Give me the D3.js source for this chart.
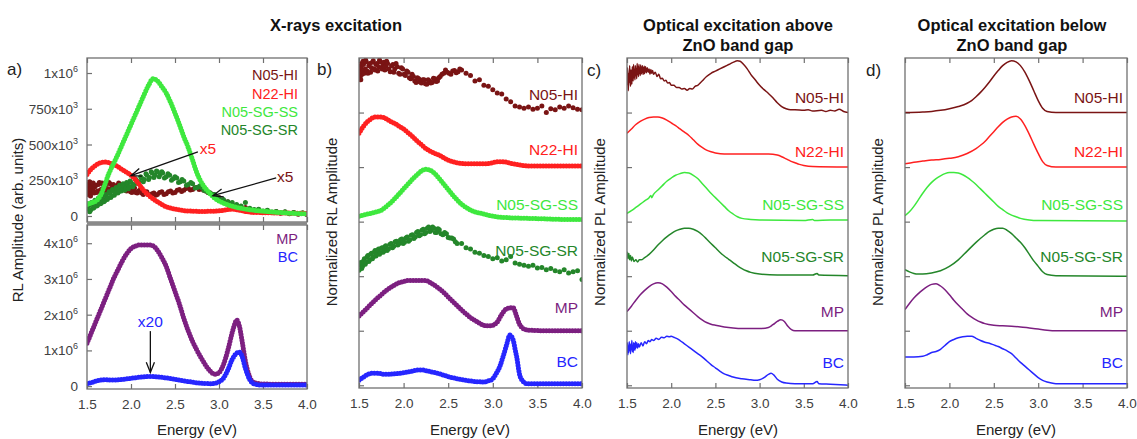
<!DOCTYPE html>
<html>
<head>
<meta charset="utf-8">
<script src="https://cdn.jsdelivr.net/npm/d3@7"></script>
<style>
  body { margin: 0; background: #fff; }
  svg { display: block; font-family: "Liberation Sans", Arial, sans-serif; }
</style>
</head>
<body>
<script>
// ---- data (energy in eV, value) ----
const energyTicks = [1.5, 2.0, 2.5, 3.0, 3.5, 4.0];
const sampleNames = ["N05-HI", "N22-HI", "N05-SG-SS", "N05-SG-SR", "MP", "BC"];
const sampleColors = ["#7a1414", "#ff2020", "#3ee83e", "#24862a", "#7c1f80", "#2626ff"];

// panel a, top (arb. units / 1e3)
const aTopTicks = [0, 250, 500, 750, 1000];
const aTopTickLabels = [["0", ""], ["250x10", "3"], ["500x10", "3"], ["750x10", "3"], ["1x10", "6"]];
const aHI = [[1.5,150],[1.505,195],[1.51,220],[1.515,160],[1.52,170],[1.525,215],[1.53,240],[1.535,185],[1.54,140],[1.545,200],[1.55,210],[1.555,165],[1.56,180],[1.565,225],[1.57,230],[1.575,175],[1.58,160],[1.59,205],[1.6,215],[1.61,165],[1.62,175],[1.63,220],[1.64,235],[1.65,180],[1.66,185],[1.67,230],[1.68,220],[1.69,175],[1.7,170],[1.71,215],[1.72,230],[1.73,185],[1.74,190],[1.75,235],[1.76,225],[1.77,190],[1.78,180],[1.79,210],[1.8,220],[1.815,185],[1.83,195],[1.845,215],[1.86,230],[1.875,190],[1.89,185],[1.905,205],[1.92,215],[1.935,180],[1.95,175],[1.965,190],[1.98,200],[1.995,170],[2.01,165],[2.025,185],[2.04,195],[2.055,165],[2.07,160],[2.085,175],[2.1,180],[2.12,160],[2.14,150],[2.16,165],[2.18,170],[2.2,150],[2.22,145],[2.24,155],[2.26,160],[2.28,145],[2.3,150],[2.325,165],[2.35,170],[2.375,150],[2.4,155],[2.425,170],[2.45,175],[2.475,160],[2.5,165],[2.525,180],[2.55,185],[2.575,172],[2.6,180],[2.625,192],[2.65,195],[2.675,182],[2.7,185],[2.725,198],[2.75,200],[2.775,185],[2.8,190],[2.825,180],[2.85,175],[2.875,165],[2.9,160],[2.925,150],[2.95,145],[2.975,135],[3.0,130],[3.05,110],[3.1,100],[3.15,80],[3.2,70],[3.25,55],[3.3,60],[3.35,45],[3.4,40],[3.45,45],[3.5,30],[3.55,38],[3.6,25],[3.65,32],[3.7,20],[3.75,28],[3.8,15],[3.85,25],[3.9,12],[3.95,20],[4.0,10]];
const aN22 = [[1.5,290],[1.55,330],[1.6,355],[1.65,372],[1.7,378],[1.75,372],[1.8,360],[1.85,345],[1.9,325],[1.95,305],[2.0,285],[2.05,255],[2.1,215],[2.15,175],[2.2,145],[2.25,120],[2.3,100],[2.35,80],[2.4,65],[2.45,55],[2.5,48],[2.6,38],[2.7,34],[2.8,32],[2.9,33],[3.0,36],[3.1,45],[3.15,48],[3.2,44],[3.3,32],[3.4,25],[3.6,22],[3.8,20],[4.0,18]];
const aSS = [[1.5,80],[1.55,92],[1.6,105],[1.65,140],[1.7,215],[1.75,300],[1.8,365],[1.85,430],[1.9,500],[1.95,570],[2.0,640],[2.05,710],[2.1,780],[2.15,850],[2.2,915],[2.25,960],[2.3,945],[2.35,905],[2.4,860],[2.45,795],[2.5,720],[2.55,640],[2.6,555],[2.65,480],[2.7,390],[2.75,300],[2.8,235],[2.85,190],[2.9,155],[2.95,125],[3.0,105],[3.1,78],[3.2,60],[3.3,48],[3.4,40],[3.5,33],[3.6,28],[3.7,24],[3.8,20],[3.9,17],[4.0,15]];
const aSR = [[1.5,50],[1.51,85],[1.52,70],[1.53,30],[1.54,40],[1.55,95],[1.56,80],[1.57,55],[1.58,60],[1.59,110],[1.6,95],[1.61,70],[1.62,75],[1.63,125],[1.64,110],[1.65,85],[1.66,90],[1.67,140],[1.68,120],[1.69,100],[1.7,105],[1.71,150],[1.72,140],[1.73,115],[1.74,125],[1.75,170],[1.76,160],[1.77,130],[1.78,140],[1.79,185],[1.8,175],[1.81,145],[1.82,160],[1.83,200],[1.84,190],[1.85,160],[1.86,170],[1.87,215],[1.88,200],[1.89,175],[1.9,185],[1.91,225],[1.92,210],[1.93,180],[1.94,195],[1.95,235],[1.96,225],[1.97,190],[1.98,205],[1.99,245],[2.0,235],[2.02,205],[2.03,220],[2.05,260],[2.06,250],[2.08,225],[2.09,240],[2.11,275],[2.12,265],[2.14,240],[2.15,255],[2.17,295],[2.18,285],[2.2,255],[2.21,270],[2.23,310],[2.24,300],[2.26,270],[2.27,285],[2.29,315],[2.3,310],[2.32,275],[2.33,290],[2.35,310],[2.36,300],[2.38,265],[2.4,275],[2.42,295],[2.44,285],[2.46,250],[2.48,260],[2.5,275],[2.52,265],[2.54,235],[2.56,240],[2.58,255],[2.6,245],[2.63,215],[2.65,220],[2.68,235],[2.7,225],[2.73,195],[2.75,200],[2.78,210],[2.8,200],[2.83,180],[2.85,175],[2.88,165],[2.9,160],[2.93,150],[2.95,150],[2.98,130],[3.0,125],[3.05,115],[3.1,100],[3.15,95],[3.2,80],[3.25,70],[3.3,95],[3.35,55],[3.4,45],[3.45,48],[3.5,35],[3.55,40],[3.6,28],[3.65,32],[3.7,22],[3.75,30],[3.8,18],[3.85,25],[3.9,15],[3.95,22],[4.0,12]];

// panel a, bottom (arb. units / 1e6)
const aBotTicks = [0, 1, 2, 3, 4];
const aBotTickLabels = [["0", ""], ["1x10", "6"], ["2x10", "6"], ["3x10", "6"], ["4x10", "6"]];
const aMP = [[1.5,1.2],[1.55,1.5],[1.6,1.8],[1.65,2.1],[1.7,2.4],[1.75,2.7],[1.8,3.0],[1.85,3.25],[1.9,3.5],[1.95,3.7],[2.0,3.85],[2.05,3.92],[2.1,3.95],[2.15,3.95],[2.2,3.95],[2.25,3.93],[2.3,3.8],[2.35,3.6],[2.4,3.35],[2.45,3.0],[2.5,2.65],[2.55,2.3],[2.6,1.9],[2.65,1.55],[2.7,1.25],[2.75,1.0],[2.8,0.78],[2.85,0.58],[2.9,0.42],[2.95,0.33],[3.0,0.38],[3.05,0.6],[3.1,1.0],[3.15,1.5],[3.18,1.75],[3.2,1.85],[3.23,1.7],[3.26,1.3],[3.3,0.7],[3.35,0.25],[3.4,0.1],[3.5,0.06],[3.75,0.05],[4.0,0.05]];
const aBC = [[1.5,0.07],[1.55,0.1],[1.6,0.14],[1.65,0.17],[1.7,0.18],[1.8,0.17],[1.9,0.19],[2.0,0.22],[2.1,0.25],[2.2,0.27],[2.3,0.26],[2.4,0.23],[2.5,0.19],[2.6,0.15],[2.7,0.11],[2.8,0.08],[2.9,0.07],[2.95,0.08],[3.0,0.12],[3.05,0.22],[3.1,0.45],[3.15,0.75],[3.2,0.92],[3.23,0.95],[3.26,0.85],[3.3,0.5],[3.35,0.18],[3.4,0.06],[3.5,0.03],[3.75,0.03],[4.0,0.03]];

// panel b, normalized RL
const bHI = [[1.5,0.7],[1.505,0.78],[1.51,0.85],[1.515,0.66],[1.52,0.6],[1.525,0.82],[1.53,0.9],[1.535,0.7],[1.54,0.75],[1.545,0.94],[1.55,0.88],[1.56,0.72],[1.57,0.8],[1.575,0.96],[1.58,0.93],[1.59,0.76],[1.6,0.72],[1.61,0.86],[1.62,0.9],[1.63,0.74],[1.64,0.82],[1.65,0.92],[1.66,0.95],[1.67,0.8],[1.68,0.78],[1.69,0.88],[1.7,0.9],[1.71,0.76],[1.72,0.84],[1.73,0.96],[1.74,0.93],[1.75,0.82],[1.76,0.8],[1.77,0.88],[1.78,0.92],[1.79,0.78],[1.8,0.85],[1.81,0.94],[1.82,0.9],[1.835,0.8],[1.85,0.75],[1.865,0.86],[1.88,0.88],[1.89,0.74],[1.9,0.8],[1.915,0.9],[1.93,0.84],[1.945,0.72],[1.96,0.7],[1.975,0.82],[1.99,0.8],[2.005,0.7],[2.02,0.68],[2.035,0.76],[2.05,0.74],[2.065,0.64],[2.08,0.62],[2.095,0.7],[2.11,0.66],[2.125,0.58],[2.14,0.55],[2.155,0.64],[2.17,0.62],[2.185,0.56],[2.2,0.54],[2.215,0.6],[2.23,0.6],[2.245,0.53],[2.26,0.52],[2.275,0.6],[2.29,0.58],[2.305,0.54],[2.32,0.55],[2.335,0.63],[2.35,0.62],[2.365,0.57],[2.38,0.58],[2.395,0.64],[2.41,0.66],[2.43,0.7],[2.45,0.72],[2.47,0.78],[2.49,0.74],[2.51,0.72],[2.53,0.7],[2.55,0.76],[2.57,0.77],[2.59,0.73],[2.61,0.75],[2.63,0.8],[2.65,0.78],[2.7,0.72],[2.75,0.68],[2.8,0.58],[2.85,0.6],[2.9,0.5],[2.95,0.48],[3.0,0.42],[3.05,0.36],[3.1,0.34],[3.15,0.25],[3.2,0.2],[3.25,0.12],[3.3,0.1],[3.35,0.08],[3.4,0.1],[3.45,0.06],[3.5,0.08],[3.55,0.12],[3.6,0.0],[3.65,0.07],[3.7,0.05],[3.75,0.1],[3.8,0.08],[3.85,0.12],[3.9,0.09],[3.95,0.06],[4.0,0.05]];
const bN22 = [[1.5,0.62],[1.55,0.75],[1.6,0.84],[1.65,0.9],[1.7,0.92],[1.75,0.92],[1.8,0.89],[1.85,0.84],[1.9,0.8],[1.95,0.75],[2.0,0.7],[2.05,0.63],[2.1,0.56],[2.15,0.48],[2.2,0.41],[2.25,0.34],[2.3,0.29],[2.35,0.25],[2.4,0.22],[2.45,0.17],[2.5,0.13],[2.55,0.1],[2.6,0.08],[2.7,0.06],[2.8,0.06],[2.9,0.06],[3.0,0.08],[3.05,0.1],[3.1,0.1],[3.15,0.09],[3.2,0.07],[3.3,0.04],[3.4,0.02],[3.6,0.02],[4.0,0.02]];
const bSS = [[1.5,0.1],[1.55,0.12],[1.6,0.14],[1.65,0.16],[1.7,0.18],[1.75,0.21],[1.8,0.27],[1.85,0.34],[1.9,0.42],[1.95,0.51],[2.0,0.6],[2.05,0.69],[2.1,0.78],[2.15,0.86],[2.2,0.93],[2.25,0.96],[2.3,0.94],[2.35,0.88],[2.4,0.79],[2.45,0.69],[2.5,0.59],[2.55,0.49],[2.6,0.4],[2.65,0.32],[2.7,0.26],[2.75,0.21],[2.8,0.18],[2.9,0.14],[3.0,0.1],[3.1,0.08],[3.2,0.07],[3.4,0.06],[3.6,0.05],[3.8,0.04],[4.0,0.04]];
const bSR = [[1.5,0.11],[1.51,0.2],[1.52,0.25],[1.53,0.14],[1.54,0.18],[1.55,0.28],[1.56,0.32],[1.57,0.22],[1.58,0.26],[1.59,0.35],[1.6,0.38],[1.61,0.27],[1.62,0.3],[1.63,0.4],[1.64,0.42],[1.65,0.32],[1.66,0.35],[1.67,0.44],[1.68,0.47],[1.69,0.37],[1.7,0.4],[1.71,0.48],[1.72,0.5],[1.73,0.4],[1.74,0.43],[1.75,0.51],[1.76,0.52],[1.77,0.44],[1.78,0.46],[1.79,0.54],[1.8,0.56],[1.815,0.47],[1.83,0.5],[1.845,0.58],[1.86,0.6],[1.875,0.52],[1.89,0.55],[1.905,0.63],[1.92,0.64],[1.935,0.57],[1.95,0.6],[1.965,0.67],[1.98,0.68],[1.995,0.6],[2.01,0.62],[2.025,0.7],[2.04,0.72],[2.055,0.64],[2.07,0.67],[2.085,0.75],[2.1,0.76],[2.115,0.69],[2.13,0.72],[2.145,0.8],[2.16,0.82],[2.175,0.74],[2.19,0.76],[2.205,0.84],[2.22,0.86],[2.235,0.78],[2.25,0.8],[2.265,0.88],[2.28,0.9],[2.295,0.82],[2.31,0.84],[2.325,0.9],[2.34,0.88],[2.355,0.8],[2.37,0.8],[2.385,0.87],[2.4,0.85],[2.42,0.78],[2.44,0.76],[2.46,0.8],[2.48,0.78],[2.5,0.71],[2.52,0.7],[2.54,0.7],[2.56,0.68],[2.58,0.63],[2.6,0.6],[2.65,0.6],[2.7,0.52],[2.75,0.5],[2.8,0.44],[2.85,0.42],[2.9,0.38],[2.95,0.36],[3.0,0.32],[3.05,0.34],[3.1,0.28],[3.15,0.3],[3.2,0.36],[3.25,0.24],[3.3,0.22],[3.35,0.2],[3.4,0.18],[3.45,0.2],[3.5,0.15],[3.55,0.16],[3.6,0.12],[3.65,0.14],[3.7,0.1],[3.75,0.08],[3.8,0.12],[3.85,0.06],[3.9,0.08],[3.95,0.1],[4.0,-0.06]];
const bMP = [[1.5,0.27],[1.55,0.35],[1.6,0.43],[1.65,0.51],[1.7,0.59],[1.75,0.66],[1.8,0.73],[1.85,0.79],[1.9,0.84],[1.95,0.88],[2.0,0.9],[2.05,0.92],[2.1,0.92],[2.15,0.92],[2.2,0.92],[2.25,0.92],[2.3,0.88],[2.35,0.83],[2.4,0.77],[2.45,0.7],[2.5,0.62],[2.55,0.54],[2.6,0.46],[2.65,0.38],[2.7,0.31],[2.75,0.24],[2.8,0.19],[2.85,0.14],[2.9,0.1],[2.95,0.09],[3.0,0.1],[3.05,0.16],[3.1,0.3],[3.15,0.4],[3.2,0.42],[3.23,0.42],[3.26,0.3],[3.3,0.12],[3.34,0.04],[3.4,0.01],[3.6,0.0],[4.0,0.0]];
const bBC = [[1.5,0.09],[1.55,0.15],[1.6,0.2],[1.65,0.22],[1.7,0.22],[1.8,0.2],[1.9,0.21],[2.0,0.23],[2.1,0.26],[2.15,0.28],[2.2,0.28],[2.3,0.25],[2.4,0.21],[2.5,0.16],[2.6,0.12],[2.7,0.09],[2.8,0.07],[2.9,0.06],[2.95,0.08],[3.0,0.12],[3.04,0.22],[3.08,0.35],[3.11,0.5],[3.14,0.66],[3.16,0.77],[3.19,0.92],[3.23,0.82],[3.25,0.66],[3.27,0.5],[3.3,0.2],[3.34,0.07],[3.38,0.03],[3.5,0.03],[4.0,0.03]];

// panel c, PL above band gap
const cHI = [[1.5,0.5],[1.505,0.82],[1.51,0.62],[1.515,0.4],[1.52,0.72],[1.525,0.55],[1.53,0.86],[1.535,0.6],[1.54,0.48],[1.545,0.78],[1.55,0.66],[1.555,0.52],[1.56,0.84],[1.565,0.7],[1.57,0.58],[1.575,0.88],[1.58,0.64],[1.585,0.76],[1.59,0.6],[1.595,0.86],[1.6,0.68],[1.605,0.8],[1.61,0.62],[1.615,0.9],[1.62,0.7],[1.625,0.84],[1.63,0.66],[1.635,0.88],[1.64,0.72],[1.645,0.8],[1.65,0.68],[1.655,0.87],[1.66,0.72],[1.665,0.83],[1.67,0.7],[1.675,0.86],[1.68,0.74],[1.685,0.82],[1.69,0.7],[1.695,0.85],[1.7,0.72],[1.71,0.84],[1.72,0.73],[1.73,0.82],[1.74,0.74],[1.75,0.8],[1.76,0.7],[1.77,0.79],[1.78,0.72],[1.79,0.77],[1.8,0.7],[1.82,0.74],[1.84,0.66],[1.86,0.7],[1.88,0.62],[1.9,0.63],[1.92,0.58],[1.94,0.59],[1.96,0.54],[1.98,0.55],[2.0,0.5],[2.03,0.5],[2.06,0.46],[2.09,0.46],[2.12,0.43],[2.15,0.44],[2.18,0.41],[2.21,0.44],[2.24,0.43],[2.27,0.48],[2.3,0.5],[2.35,0.58],[2.4,0.66],[2.45,0.72],[2.5,0.76],[2.55,0.8],[2.6,0.84],[2.65,0.88],[2.7,0.92],[2.75,0.95],[2.78,0.94],[2.82,0.88],[2.86,0.8],[2.9,0.7],[2.95,0.6],[3.0,0.5],[3.05,0.42],[3.1,0.35],[3.15,0.27],[3.2,0.18],[3.25,0.11],[3.3,0.07],[3.35,0.05],[3.4,0.05],[3.5,0.04],[3.55,0.05],[3.6,0.03],[3.7,0.04],[3.75,0.02],[3.8,0.04],[3.85,0.03],[3.9,0.06],[3.95,0.02],[4.0,0.0]];
const cN22 = [[1.5,0.62],[1.55,0.7],[1.6,0.78],[1.65,0.84],[1.7,0.88],[1.75,0.91],[1.8,0.92],[1.85,0.92],[1.9,0.9],[1.95,0.86],[2.0,0.81],[2.05,0.76],[2.1,0.7],[2.15,0.64],[2.2,0.58],[2.25,0.5],[2.3,0.42],[2.35,0.36],[2.4,0.31],[2.45,0.28],[2.5,0.26],[2.6,0.24],[2.8,0.24],[3.0,0.24],[3.1,0.24],[3.2,0.22],[3.25,0.19],[3.3,0.15],[3.35,0.11],[3.4,0.08],[3.45,0.05],[3.5,0.03],[3.6,0.01],[4.0,0.0]];
const cSS = [[1.5,0.15],[1.55,0.2],[1.6,0.26],[1.65,0.32],[1.7,0.38],[1.75,0.44],[1.77,0.48],[1.78,0.44],[1.8,0.5],[1.85,0.58],[1.9,0.66],[1.95,0.74],[2.0,0.8],[2.05,0.85],[2.1,0.88],[2.15,0.9],[2.2,0.89],[2.25,0.85],[2.3,0.79],[2.35,0.7],[2.4,0.61],[2.45,0.52],[2.5,0.44],[2.55,0.36],[2.6,0.28],[2.65,0.2],[2.7,0.14],[2.75,0.09],[2.8,0.06],[2.9,0.04],[3.0,0.03],[3.5,0.02],[3.6,0.04],[3.62,0.02],[3.8,0.03],[4.0,0.03]];
const cSR = [[1.5,0.45],[1.51,0.32],[1.52,0.42],[1.53,0.3],[1.54,0.38],[1.55,0.28],[1.56,0.35],[1.58,0.27],[1.6,0.3],[1.62,0.26],[1.64,0.3],[1.66,0.3],[1.7,0.34],[1.75,0.4],[1.8,0.48],[1.85,0.57],[1.9,0.65],[1.95,0.72],[2.0,0.78],[2.05,0.83],[2.1,0.86],[2.15,0.88],[2.2,0.88],[2.25,0.86],[2.3,0.82],[2.35,0.76],[2.4,0.68],[2.45,0.6],[2.5,0.52],[2.55,0.44],[2.6,0.37],[2.65,0.31],[2.7,0.25],[2.75,0.19],[2.8,0.14],[2.85,0.1],[2.9,0.07],[3.0,0.04],[3.2,0.02],[3.6,0.02],[3.65,0.05],[3.67,0.02],[4.0,0.01]];
const cMP = [[1.5,0.35],[1.55,0.45],[1.6,0.56],[1.65,0.66],[1.7,0.74],[1.75,0.81],[1.8,0.86],[1.85,0.88],[1.9,0.86],[1.95,0.8],[2.0,0.72],[2.05,0.63],[2.1,0.55],[2.15,0.47],[2.2,0.4],[2.25,0.33],[2.3,0.26],[2.35,0.2],[2.4,0.15],[2.45,0.12],[2.5,0.1],[2.6,0.07],[2.7,0.05],[2.8,0.04],[2.9,0.04],[3.0,0.04],[3.1,0.06],[3.15,0.11],[3.2,0.17],[3.24,0.2],[3.28,0.17],[3.32,0.08],[3.36,0.02],[3.4,0.0],[4.0,0.0]];
const cBC = [[1.5,0.62],[1.505,0.78],[1.51,0.56],[1.515,0.72],[1.52,0.6],[1.525,0.8],[1.53,0.64],[1.535,0.74],[1.54,0.58],[1.545,0.76],[1.55,0.66],[1.555,0.82],[1.56,0.62],[1.565,0.72],[1.57,0.6],[1.575,0.78],[1.58,0.66],[1.585,0.76],[1.59,0.64],[1.595,0.8],[1.6,0.68],[1.61,0.78],[1.62,0.68],[1.63,0.76],[1.64,0.7],[1.66,0.78],[1.68,0.72],[1.7,0.8],[1.72,0.76],[1.74,0.82],[1.76,0.8],[1.78,0.84],[1.8,0.82],[1.83,0.86],[1.86,0.84],[1.89,0.88],[1.92,0.87],[1.95,0.9],[1.98,0.89],[2.0,0.9],[2.03,0.88],[2.06,0.86],[2.1,0.82],[2.15,0.76],[2.2,0.7],[2.25,0.64],[2.3,0.58],[2.35,0.52],[2.4,0.45],[2.45,0.38],[2.5,0.32],[2.55,0.26],[2.6,0.21],[2.65,0.18],[2.7,0.15],[2.8,0.12],[2.9,0.1],[2.95,0.09],[3.0,0.1],[3.05,0.14],[3.1,0.2],[3.13,0.22],[3.16,0.19],[3.2,0.11],[3.25,0.06],[3.3,0.04],[3.4,0.03],[3.5,0.03],[3.6,0.03],[3.65,0.07],[3.67,0.03],[3.8,0.02],[4.0,0.0]];

// panel d, PL below band gap
const dHI = [[1.5,0.0],[1.7,0.01],[1.8,0.02],[1.9,0.04],[2.0,0.07],[2.1,0.11],[2.2,0.17],[2.25,0.22],[2.3,0.29],[2.35,0.37],[2.4,0.46],[2.45,0.56],[2.5,0.67],[2.55,0.77],[2.6,0.86],[2.65,0.92],[2.7,0.95],[2.75,0.93],[2.8,0.86],[2.85,0.74],[2.9,0.58],[2.95,0.4],[3.0,0.22],[3.05,0.08],[3.1,0.02],[3.2,0.0],[4.0,0.0]];
const dN22 = [[1.5,0.06],[1.6,0.09],[1.7,0.11],[1.8,0.13],[1.9,0.14],[2.0,0.16],[2.1,0.19],[2.2,0.25],[2.3,0.34],[2.35,0.4],[2.4,0.47],[2.45,0.56],[2.5,0.65],[2.55,0.74],[2.6,0.82],[2.65,0.88],[2.7,0.92],[2.75,0.93],[2.8,0.88],[2.85,0.76],[2.9,0.6],[2.95,0.42],[3.0,0.25],[3.05,0.1],[3.1,0.03],[3.2,0.0],[4.0,0.0]];
const dSS = [[1.5,0.11],[1.55,0.18],[1.6,0.28],[1.65,0.4],[1.7,0.52],[1.75,0.63],[1.8,0.72],[1.85,0.79],[1.9,0.84],[1.95,0.88],[2.0,0.9],[2.05,0.9],[2.1,0.89],[2.15,0.86],[2.2,0.81],[2.25,0.75],[2.3,0.68],[2.35,0.6],[2.4,0.52],[2.45,0.44],[2.5,0.36],[2.55,0.28],[2.6,0.22],[2.65,0.16],[2.7,0.12],[2.75,0.09],[2.8,0.06],[2.9,0.03],[3.0,0.02],[4.0,0.01]];
const dSR = [[1.5,0.12],[1.55,0.08],[1.6,0.05],[1.65,0.04],[1.7,0.04],[1.8,0.06],[1.9,0.1],[2.0,0.18],[2.1,0.3],[2.2,0.46],[2.3,0.62],[2.4,0.76],[2.45,0.82],[2.5,0.86],[2.55,0.88],[2.6,0.88],[2.65,0.84],[2.7,0.78],[2.75,0.7],[2.8,0.62],[2.85,0.52],[2.9,0.4],[2.95,0.28],[3.0,0.18],[3.05,0.08],[3.1,0.03],[3.2,0.01],[4.0,0.0]];
const dMP = [[1.5,0.39],[1.55,0.5],[1.6,0.6],[1.65,0.68],[1.7,0.75],[1.75,0.81],[1.8,0.85],[1.85,0.86],[1.9,0.82],[1.95,0.75],[2.0,0.66],[2.05,0.56],[2.1,0.47],[2.15,0.39],[2.2,0.31],[2.25,0.25],[2.3,0.2],[2.35,0.16],[2.4,0.13],[2.5,0.1],[2.6,0.09],[2.7,0.08],[2.8,0.07],[2.9,0.05],[3.0,0.03],[3.1,0.01],[3.2,0.0],[4.0,0.0]];
const dBC = [[1.5,0.52],[1.6,0.52],[1.7,0.53],[1.75,0.56],[1.8,0.6],[1.85,0.62],[1.9,0.66],[1.95,0.73],[2.0,0.8],[2.05,0.84],[2.1,0.87],[2.15,0.89],[2.2,0.9],[2.25,0.9],[2.3,0.86],[2.35,0.82],[2.4,0.79],[2.45,0.77],[2.5,0.74],[2.55,0.71],[2.6,0.67],[2.65,0.63],[2.7,0.58],[2.75,0.5],[2.8,0.42],[2.85,0.35],[2.9,0.28],[2.95,0.21],[3.0,0.14],[3.05,0.09],[3.1,0.06],[3.15,0.04],[3.2,0.03],[4.0,0.03]];

// ---- drawing ----
const width = 1137, height = 439;
const frameColor = '#707070';
const textColor = '#404040';

const svg = d3.select('body').append('svg')
  .attr('width', width)
  .attr('height', height);

let clipCount = 0;

function panel(box, yDomain, opts) {
  const x = d3.scaleLinear().domain([1.5, 4.0]).range([box.x0, box.x1]);
  const y = d3.scaleLinear().domain(yDomain).range([box.y1, box.y0]);
  const id = 'clip' + (clipCount++);
  svg.append('clipPath').attr('id', id)
    .append('rect')
    .attr('x', box.x0).attr('y', box.y0)
    .attr('width', box.x1 - box.x0).attr('height', box.y1 - box.y0);

  const axes = svg.append('g');
  // inward ticks on top and bottom
  axes.append('g')
    .attr('transform', `translate(0,${box.y0})`)
    .call(d3.axisTop(x).tickValues(energyTicks).tickSize(-5).tickFormat(''));
  const bottom = axes.append('g')
    .attr('transform', `translate(0,${box.y1})`)
    .call(d3.axisBottom(x).tickValues(energyTicks).tickSize(-5).tickPadding(10)
      .tickFormat(opts.xLabels ? d3.format('.1f') : ''));
  axes.append('g')
    .attr('transform', `translate(${box.x0},0)`)
    .call(d3.axisLeft(y).tickValues(opts.yTicks).tickSize(-5).tickFormat(''));
  axes.selectAll('.domain').remove();
  axes.selectAll('.tick line').attr('stroke', frameColor).attr('stroke-width', 1.2);
  bottom.selectAll('text')
    .attr('fill', textColor)
    .style('font-size', '13.5px')
    .style('font-family', '"Liberation Sans", Arial, sans-serif');

  const g = svg.append('g').attr('clip-path', `url(#${id})`);

  svg.append('rect')
    .attr('x', box.x0).attr('y', box.y0)
    .attr('width', box.x1 - box.x0).attr('height', box.y1 - box.y0)
    .attr('fill', 'none')
    .attr('stroke', frameColor)
    .attr('stroke-width', 1.3);

  if (opts.yLabels) {
    svg.append('g').selectAll('text')
      .data(opts.yTicks)
      .join('text')
      .attr('x', box.x0 - 9)
      .attr('y', d => y(d) + 5)
      .attr('text-anchor', 'end')
      .attr('fill', textColor)
      .style('font-size', '13.5px')
      .each(function (d, i) {
        const t = d3.select(this);
        const lab = opts.yLabels[i];
        t.append('tspan').text(lab[0]);
        if (lab[1]) {
          t.append('tspan').attr('dy', -6).style('font-size', '9px').text(lab[1]);
        }
      });
  }
  return { x, y, g };
}

// dense scatter: round dots spaced along the curve through the points
function dottedPath(p, data, color, offset = 0) {
  const line = d3.line()
    .x(d => p.x(d[0]))
    .y(d => p.y(d[1] + offset))
    .curve(d3.curveMonotoneX);
  p.g.append('path')
    .attr('d', line(data))
    .attr('fill', 'none')
    .attr('stroke', color)
    .attr('stroke-width', 5)
    .attr('stroke-linecap', 'round')
    .attr('stroke-dasharray', '0 2.9');
}

// noisy scatter: one dot per point
function dotCloud(p, data, color, offset = 0) {
  p.g.append('g').selectAll('circle')
    .data(data)
    .join('circle')
    .attr('cx', d => p.x(d[0]))
    .attr('cy', d => p.y(d[1] + offset))
    .attr('r', 2.5)
    .attr('fill', color);
}

function solidLine(p, data, color, offset = 0) {
  const line = d3.line()
    .x(d => p.x(d[0]))
    .y(d => p.y(d[1] + offset))
    .curve(d3.curveMonotoneX);
  p.g.append('path')
    .attr('d', line(data))
    .attr('fill', 'none')
    .attr('stroke', color)
    .attr('stroke-width', 1.5)
    .attr('stroke-linejoin', 'round');
}

function label(txt, x, y, color, size = 15.5, anchor = 'end', weight = 'normal') {
  svg.append('text')
    .attr('x', x).attr('y', y)
    .attr('text-anchor', anchor)
    .attr('fill', color)
    .style('font-size', size + 'px')
    .style('font-weight', weight)
    .text(txt);
}

function yTitle(txt, x, y) {
  svg.append('text')
    .attr('transform', `translate(${x},${y}) rotate(-90)`)
    .attr('text-anchor', 'middle')
    .attr('fill', '#222')
    .style('font-size', '15px')
    .text(txt);
}

function arrow(p, from, to) {
  const x1 = p.x(from[0]), y1 = p.y(from[1]);
  const x2 = p.x(to[0]), y2 = p.y(to[1]);
  const ang = Math.atan2(y1 - y2, x1 - x2);
  const head = 11, spread = 0.38;
  const g = svg.append('g').attr('stroke', '#111').attr('stroke-width', 1.3).attr('fill', 'none');
  g.append('line').attr('x1', x1).attr('y1', y1).attr('x2', x2).attr('y2', y2);
  g.append('polyline').attr('points', [
    [x2 + head * Math.cos(ang + spread), y2 + head * Math.sin(ang + spread)],
    [x2, y2],
    [x2 + head * Math.cos(ang - spread), y2 + head * Math.sin(ang - spread)]
  ].map(d => d.join(',')).join(' '));
}

// panel a (absolute RL)
const aTop = panel({ x0: 87, x1: 307, y0: 58, y1: 222 }, [-42, 1105],
  { yTicks: aTopTicks, yLabels: aTopTickLabels, xLabels: false });
const aBot = panel({ x0: 87, x1: 307, y0: 225, y1: 389 }, [-0.08, 4.51],
  { yTicks: aBotTicks, yLabels: aBotTickLabels, xLabels: true });
svg.append('rect').attr('x', 87).attr('y', 222).attr('width', 220).attr('height', 3).attr('fill', '#8a8a8a');

dotCloud(aTop, aHI, sampleColors[0]);
dotCloud(aTop, aSR, sampleColors[3]);
dottedPath(aTop, aN22, sampleColors[1]);
dottedPath(aTop, aSS, sampleColors[2]);
dottedPath(aBot, aMP, sampleColors[4]);
dottedPath(aBot, aBC, sampleColors[5]);

arrow(aTop, [2.76, 448], [2.0, 282]);
arrow(aTop, [3.65, 266], [2.93, 142]);
arrow(aBot, [2.22, 1.54], [2.22, 0.38]);
label('x5', aTop.x(2.78), aTop.y(476) + 6, sampleColors[1], 15.5, 'start');
label('x5', aTop.x(3.66), aTop.y(280) + 6, sampleColors[0], 15.5, 'start');
label('x20', aBot.x(2.22), aBot.y(1.82) + 6, sampleColors[5], 15.5, 'middle');

const aLabY = [80, 99, 117, 135];
sampleNames.slice(0, 4).forEach((n, i) => label(n, 298, aLabY[i], sampleColors[i], 14.5));
label('MP', 298, 244, sampleColors[4], 14.5);
label('BC', 298, 262, sampleColors[5], 14.5);

// panels b, c, d (normalized, stacked)
const bandTicks = [0, 1, 2, 3, 4, 5];
const stackBox = (x0, x1) => ({ x0, x1, y0: 58, y1: 388 });
const pb = panel(stackBox(359, 582), [-0.05, 6], { yTicks: bandTicks, xLabels: true });
const pc = panel(stackBox(627, 848), [-0.05, 6], { yTicks: bandTicks, xLabels: true });
const pd = panel(stackBox(905, 1127), [-0.05, 6], { yTicks: bandTicks, xLabels: true });

dotCloud(pb, bHI, sampleColors[0], 5);
dottedPath(pb, bN22, sampleColors[1], 4);
dottedPath(pb, bSS, sampleColors[2], 3);
dotCloud(pb, bSR, sampleColors[3], 2);
dottedPath(pb, bMP, sampleColors[4], 1);
dottedPath(pb, bBC, sampleColors[5], 0);

[cHI, cN22, cSS, cSR, cMP, cBC].forEach((s, i) => solidLine(pc, s, sampleColors[i], 5 - i));
[dHI, dN22, dSS, dSR, dMP, dBC].forEach((s, i) => solidLine(pd, s, sampleColors[i], 5 - i));

const bLabY = [100, 155, 210, 256, 313, 367];
const cdLabY = [103, 157, 210, 262, 317, 368];
sampleNames.forEach((n, i) => {
  label(n, 578, bLabY[i], sampleColors[i]);
  label(n, 844, cdLabY[i], sampleColors[i]);
  label(n, 1123, cdLabY[i], sampleColors[i]);
});

// titles, axis titles, panel letters
label('X-rays excitation', 336, 31, '#111', 16.5, 'middle', 'bold');
label('Optical excitation above', 738, 31, '#111', 16.5, 'middle', 'bold');
label('ZnO band gap', 738, 51, '#111', 16.5, 'middle', 'bold');
label('Optical excitation below', 1012, 31, '#111', 16.5, 'middle', 'bold');
label('ZnO band gap', 1012, 51, '#111', 16.5, 'middle', 'bold');

[[197], [470], [738], [1016]].forEach(d => label('Energy (eV)', d[0], 435, '#222', 15, 'middle'));

yTitle('RL Amplitude (arb. units)', 23, 220);
yTitle('Normalized RL Amplitude', 337, 222);
yTitle('Normalized PL Amplitude', 605, 222);
yTitle('Normalized PL Amplitude', 883, 222);

label('a)', 7, 75, '#222', 17, 'start');
label('b)', 317, 75, '#222', 17, 'start');
label('c)', 587, 76, '#222', 17, 'start');
label('d)', 866, 76, '#222', 17, 'start');
</script>
</body>
</html>
